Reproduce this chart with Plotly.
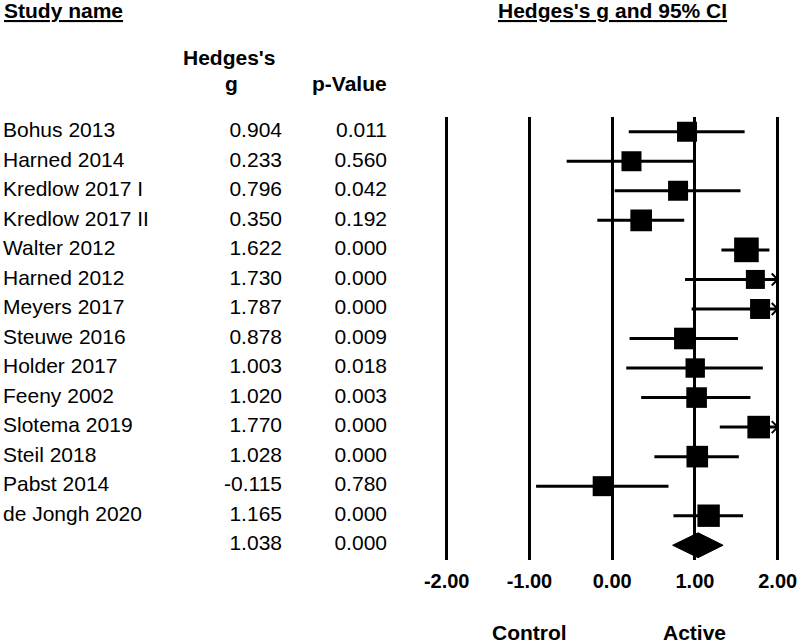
import plotly.graph_objects as go

# study-level results
studies = ["Bohus 2013", "Harned 2014", "Kredlow 2017 I", "Kredlow 2017 II",
           "Walter 2012", "Harned 2012", "Meyers 2017", "Steuwe 2016",
           "Holder 2017", "Feeny 2002", "Slotema 2019", "Steil 2018",
           "Pabst 2014", "de Jongh 2020"]
hedges_g = [0.904, 0.233, 0.796, 0.350, 1.622, 1.730, 1.787, 0.878,
            1.003, 1.020, 1.770, 1.028, -0.115, 1.165]
p_values = [0.011, 0.560, 0.042, 0.192, 0.000, 0.000, 0.000, 0.009,
            0.018, 0.003, 0.000, 0.000, 0.780, 0.000]
ci_lower = [0.20, -0.55, 0.03, -0.18, 1.32, 0.88, 0.96, 0.21,
            0.17, 0.35, 1.30, 0.51, -0.92, 0.74]
ci_upper = [1.60, 1.01, 1.55, 0.87, 1.90, 2.58, 2.61, 1.52,
            1.82, 1.67, 2.24, 1.53, 0.68, 1.58]
rel_weight = [1.00, 1.00, 1.00, 1.08, 1.23, 0.95, 1.00, 1.08,
              0.97, 1.03, 1.13, 1.08, 1.00, 1.12]

pooled_g = 1.038
pooled_p = 0.000
pooled_lower = 0.73
pooled_upper = 1.34

axis_ticks = [-2, -1, 0, 1, 2]
axis_min, axis_max = -2, 2

FONT = "Liberation Sans, Arial, sans-serif"
W, H = 800, 643
ML, MR, MT, MB = 0, 14, 117, 83
PW = W - ML - MR
PH = H - MT - MB


def px_x(p):
    return (p - ML) / PW


def px_y(p):
    return (H - MB - p) / PH


rows = list(range(len(studies)))
pooled_row = len(studies)

fig = go.Figure()

# confidence interval lines, clipped to the axis
line_x, line_y = [], []
for i, (lo, hi) in enumerate(zip(ci_lower, ci_upper)):
    line_x += [max(lo, axis_min), min(hi, axis_max), None]
    line_y += [i, i, None]
fig.add_trace(go.Scatter(x=line_x, y=line_y, mode="lines",
                         line=dict(color="black", width=3),
                         hoverinfo="skip", showlegend=False))

# point estimates
fig.add_trace(go.Scatter(x=hedges_g, y=rows, mode="markers", opacity=1,
                         marker=dict(symbol="square", color="#000000", opacity=1,
                                     size=[20 * w for w in rel_weight],
                                     line=dict(width=0, color="#000000")),
                         showlegend=False))

# pooled diamond
half_h = 0.42
fig.add_trace(go.Scatter(
    x=[pooled_lower, pooled_g, pooled_upper, pooled_g, pooled_lower],
    y=[pooled_row, pooled_row - half_h, pooled_row, pooled_row + half_h, pooled_row],
    mode="lines", fill="toself", fillcolor="black",
    line=dict(color="black", width=1), showlegend=False))

# arrows for intervals running past the axis
for i, hi in enumerate(ci_upper):
    if hi > axis_max:
        fig.add_shape(type="path", xref="x", yref="y",
                      xsizemode="pixel", ysizemode="pixel",
                      xanchor=axis_max, yanchor=i,
                      path="M -6,6 L 0,0 L -6,-6",
                      line=dict(color="black", width=2))

# table columns
tfont = dict(family=FONT, size=21, color="black")
fig.add_trace(go.Scatter(x=[3] * len(studies), y=rows, text=studies,
                         mode="text", textposition="middle right",
                         textfont=tfont, xaxis="x2", showlegend=False))
fig.add_trace(go.Scatter(x=[282] * (len(studies) + 1), y=rows + [pooled_row],
                         text=[f"{v:.3f}" for v in hedges_g + [pooled_g]],
                         mode="text", textposition="middle left",
                         textfont=tfont, xaxis="x2", showlegend=False))
fig.add_trace(go.Scatter(x=[387] * (len(studies) + 1), y=rows + [pooled_row],
                         text=[f"{v:.3f}" for v in p_values + [pooled_p]],
                         mode="text", textposition="middle left",
                         textfont=tfont, xaxis="x2", showlegend=False))

bfont = dict(family=FONT, size=21, color="black", weight="bold")
ann = [
    dict(text="<u>Study name</u>", x=px_x(2), y=px_y(10), xanchor="left"),
    dict(text="<u>Hedges's g and 95% CI</u>", x=px_x(612.5), y=px_y(10), xanchor="center"),
    dict(text="Hedges's", x=px_x(229), y=px_y(57), xanchor="center"),
    dict(text="g", x=px_x(231), y=px_y(83), xanchor="center"),
    dict(text="p-Value", x=px_x(389), y=px_y(83), xanchor="right"),
]
for a in ann:
    fig.add_annotation(xref="paper", yref="paper", yanchor="middle",
                       showarrow=False, font=bfont, **a)
for label, xv in [("Control", -1), ("Active", 1)]:
    fig.add_annotation(text=label, x=xv, xref="x", y=px_y(632), yref="paper",
                       xanchor="center", yanchor="middle", showarrow=False,
                       font=bfont)

dom_start = px_x(438.4)
fig.update_layout(
    template="none",
    width=W, height=H,
    margin=dict(l=ML, r=MR, t=MT, b=MB, autoexpand=False),
    paper_bgcolor="white", plot_bgcolor="white",
    showlegend=False,
    xaxis=dict(domain=[dom_start, 1], range=[-2.1, 2.1], automargin=False,
               tickvals=axis_ticks, ticktext=[f"{t:.2f}" for t in axis_ticks],
               showgrid=True, gridcolor="black", gridwidth=2.5,
               zeroline=False, showline=False, ticks="",
               ticklabelstandoff=7,
               tickfont=dict(family=FONT, size=20, color="black", weight="bold"),
               fixedrange=True),
    xaxis2=dict(domain=[0, dom_start - 0.005], range=[0, (dom_start - 0.005) * PW],
                visible=False, anchor="y", automargin=False, fixedrange=True),
    yaxis=dict(range=[len(studies) + 0.5, -0.5], visible=False,
               automargin=False, fixedrange=True),
)

# drop the default page margin so the figure sits at the window's corner
fig.write_html("out.html", config={"displayModeBar": False},
               post_script="document.body.style.margin='0';")
